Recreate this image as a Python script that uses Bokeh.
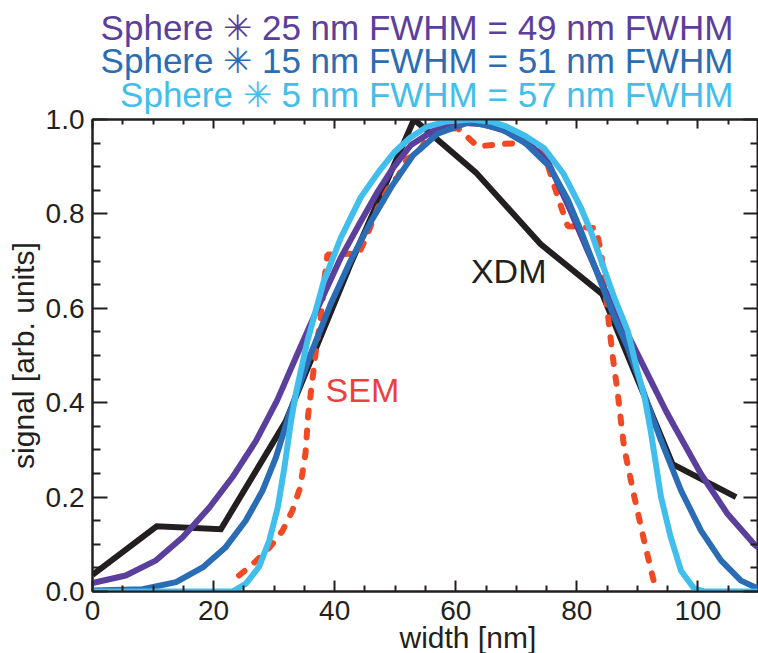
from bokeh.plotting import figure
from bokeh.models import Range1d, LinearAxis, FixedTicker, Label, Title, CustomJSTickFormatter
from bokeh.embed import file_html
from bokeh.resources import INLINE

# ---------------- data ----------------
x_ticks = [0, 20, 40, 60, 80, 100]
x_minor = [5, 10, 15, 25, 30, 35, 45, 50, 55, 65, 70, 75, 85, 90, 95, 105]
y_ticks = [0.0, 0.2, 0.4, 0.6, 0.8, 1.0]
y_tick_labels = ["0.0", "0.2", "0.4", "0.6", "0.8", "1.0"]
y_minor = [0.05, 0.1, 0.15, 0.25, 0.3, 0.35, 0.45, 0.5, 0.55, 0.65, 0.7, 0.75, 0.85, 0.9, 0.95]

xdm_x = [0, 10.6, 21.2, 31.9, 42.5, 53.1, 63.3, 74.0, 84.2, 95.8, 106.3]
xdm_y = [0.035, 0.138, 0.132, 0.36, 0.69, 1.0, 0.888, 0.736, 0.63, 0.27, 0.2]

sem_x = [24.2, 26.2, 28.3, 30.0, 31.4, 33.0, 34.3, 35.2, 35.6, 36.3, 37.0, 37.7, 38.3,
         38.8, 44.0, 45.4, 47.1, 49.3, 50.4, 52.0, 53.7, 55.3, 57.5, 60.3, 63.6, 67.4,
         73.4, 74.6, 76.0, 77.4, 78.5, 83.1, 84.0, 84.5, 85.1, 85.9, 86.7, 87.8, 89.5,
         91.1, 93.1]
sem_y = [0.034, 0.055, 0.08, 0.105, 0.129, 0.171, 0.22, 0.295, 0.372, 0.446, 0.52, 0.58,
         0.66, 0.714, 0.716, 0.756, 0.812, 0.865, 0.878, 0.917, 0.928, 0.96, 0.978, 0.982,
         0.943, 0.948, 0.952, 0.928, 0.87, 0.815, 0.774, 0.77, 0.72, 0.66, 0.59, 0.5,
         0.425, 0.305, 0.2, 0.108, 0.0]

s25_x = [0, 5.5, 10.5, 14.9, 19.3, 23.1, 27.0, 30.5, 33.8, 37.7, 41.0, 44.3, 47.0, 49.5,
         52.6, 56.5, 61.0, 64.5, 68.4, 72.0, 75.2, 79.0, 81.5, 84.5, 88.4, 91.7, 94.7,
         96.1, 100.5, 104.9, 109.3, 110]
s25_y = [0.018, 0.034, 0.066, 0.115, 0.178, 0.242, 0.319, 0.405, 0.502, 0.615, 0.707,
         0.784, 0.845, 0.895, 0.946, 0.978, 0.993, 0.99, 0.975, 0.95, 0.911, 0.805, 0.73,
         0.643, 0.545, 0.46, 0.383, 0.35, 0.249, 0.164, 0.1, 0.093]

s15_x = [0, 8.3, 13.8, 18.2, 22.0, 25.3, 28.1, 30.3, 32.5, 34.0, 36.0, 39.3, 42.6, 46.0,
         49.5, 53.0, 57.0, 62.3, 67.5, 71.5, 75.5, 78.5, 80.7, 83.5, 86.2, 88.3, 90.0,
         91.9, 93.9, 97.2, 100.5, 103.8, 107.1, 110]
s15_y = [0.002, 0.005, 0.02, 0.051, 0.094, 0.15, 0.214, 0.284, 0.376, 0.43, 0.502, 0.608,
         0.70, 0.784, 0.86, 0.925, 0.97, 0.995, 0.98, 0.95, 0.9, 0.83, 0.763, 0.67, 0.58,
         0.52, 0.46, 0.39, 0.32, 0.214, 0.129, 0.066, 0.023, 0.006]

s5_x = [0, 23.1, 25.3, 27.5, 29.2, 30.6, 31.7, 32.8, 33.6, 35.5, 38.2, 41.0, 44.3, 47.6,
        49.8, 52.5, 55.3, 58.5, 62.5, 66.0, 68.4, 71.5, 74.6, 77.8, 80.7, 82.3, 86.2,
        88.4, 90.0, 91.2, 92.2, 93.9, 95.5, 97.2, 99.4, 101.0, 110]
s5_y = [0.0, 0.0, 0.016, 0.052, 0.108, 0.178, 0.263, 0.362, 0.42, 0.531, 0.657, 0.749,
        0.835, 0.895, 0.93, 0.962, 0.985, 0.996, 1.0, 0.995, 0.985, 0.965, 0.939, 0.885,
        0.812, 0.763, 0.622, 0.552, 0.467, 0.41, 0.34, 0.2, 0.115, 0.044, 0.006, 0.0, 0.0]

titles = ["Sphere \u2733 25 nm FWHM = 49 nm FWHM",
          "Sphere \u2733 15 nm FWHM = 51 nm FWHM",
          "Sphere \u2733 5 nm FWHM = 57 nm FWHM"]
x_label = "width [nm]"
y_label = "signal [arb. units]"

# ---------------- styles / layout ----------------
FONT = "Liberation Sans"
INK = "#231F20"
C25, C15, C5 = "#5B3F9C", "#2A6DB5", "#42BEEC"
RED = "#F04A24"
TITLE_STANDOFFS = [10, -25, 11]   # tuned so the three header lines sit as in the original

p = figure(width=758, height=653, output_backend="svg", toolbar_location=None,
           x_range=Range1d(0, 110), y_range=Range1d(0, 1),
           min_border_left=92, min_border_right=0, min_border_top=118,
           min_border_bottom=62)
p.background_fill_color = "white"
p.border_fill_color = "white"
p.outline_line_color = INK
p.outline_line_width = 2
p.xgrid.visible = False
p.ygrid.visible = False

blank = CustomJSTickFormatter(code="return ''")


def style_axis(ax, ticker, major_in, minor_in, show_labels):
    ax.ticker = ticker
    ax.axis_line_color = INK
    ax.axis_line_width = 2
    ax.major_tick_line_color = INK
    ax.minor_tick_line_color = INK
    ax.major_tick_line_width = 2
    ax.minor_tick_line_width = 2
    ax.major_tick_in = major_in
    ax.major_tick_out = 0
    ax.minor_tick_in = minor_in
    ax.minor_tick_out = 0
    ax.major_label_text_font = FONT
    ax.major_label_text_color = INK
    ax.major_label_text_font_size = "28px"
    if not show_labels:
        ax.formatter = blank
        ax.major_label_standoff = 0


style_axis(p.xaxis[0], FixedTicker(ticks=x_ticks, minor_ticks=x_minor), 11, 6, True)
p.xaxis[0].major_label_standoff = 9
style_axis(p.yaxis[0], FixedTicker(ticks=y_ticks, minor_ticks=y_minor), 15, 8, True)
p.yaxis[0].major_label_standoff = 8
p.yaxis[0].major_label_overrides = dict(zip(y_ticks, y_tick_labels))
p.yaxis[0].axis_label = y_label
p.yaxis[0].axis_label_text_font = FONT
p.yaxis[0].axis_label_text_font_size = "30px"
p.yaxis[0].axis_label_text_font_style = "normal"
p.yaxis[0].axis_label_text_color = INK
p.yaxis[0].axis_label_standoff = 3

top = LinearAxis()
style_axis(top, FixedTicker(ticks=x_ticks, minor_ticks=x_minor), 9, 5, False)
p.add_layout(top, "above")
right = LinearAxis()
style_axis(right, FixedTicker(ticks=y_ticks, minor_ticks=y_minor), 15, 8, False)
p.add_layout(right, "right")

# coloured header lines, innermost (closest to the frame) first
for t, c, s in reversed(list(zip(titles, [C25, C15, C5], TITLE_STANDOFFS))):
    p.add_layout(Title(text=t, text_color=c, text_font=FONT, text_font_size="35px",
                       text_font_style="normal", align="right", offset=25,
                       standoff=s, vertical_align="bottom"), "above")

# x-axis title, off-centre as in the original
p.add_layout(Title(text=x_label, text_color=INK, text_font=FONT, text_font_size="30px",
                   text_font_style="normal", align="left", offset=307,
                   standoff=-7, vertical_align="bottom"), "below")

# curves
p.line(xdm_x, xdm_y, line_color=INK, line_width=6, line_join="miter")
p.line(sem_x, sem_y, line_color=RED, line_width=6, line_dash="7 13", line_cap="round")
p.line(s25_x, s25_y, line_color=C25, line_width=6)
p.line(s15_x, s15_y, line_color=C15, line_width=6)
p.line(s5_x, s5_y, line_color=C5, line_width=6)

# in-plot annotations
p.add_layout(Label(x=62.5, y=0.68, text="XDM", text_font=FONT, text_font_size="34px",
                   text_color=INK, text_baseline="alphabetic"))
p.add_layout(Label(x=38.5, y=0.427, text="SEM", text_font=FONT, text_font_size="34px",
                   text_color="#EE3E3E", text_baseline="alphabetic"))

open("out.html", "w").write(file_html(p, INLINE))
